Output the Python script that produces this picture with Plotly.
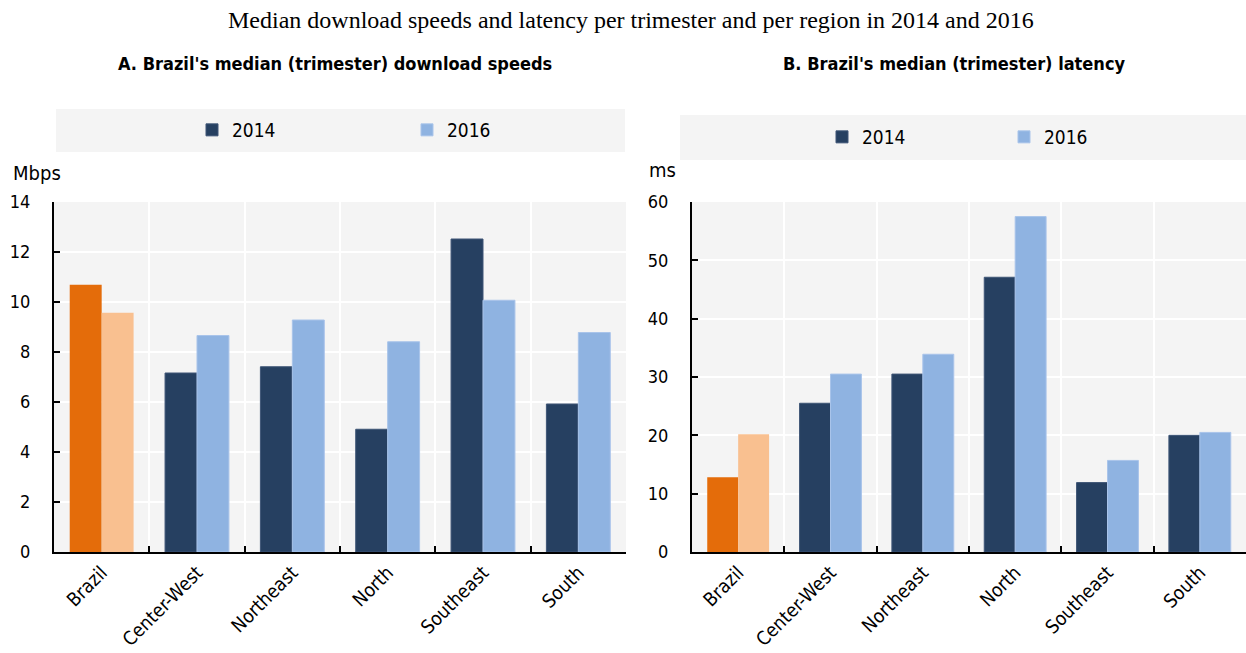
import plotly.graph_objects as go

categories = ["Brazil", "Center-West", "Northeast", "North", "Southeast", "South"]
speed_2014 = [10.69, 7.16, 7.41, 4.91, 12.52, 5.92]
speed_2016 = [9.57, 8.66, 9.28, 8.41, 10.07, 8.78]
latency_2014 = [12.8, 25.5, 30.5, 47.1, 11.9, 20.0]
latency_2016 = [20.2, 30.5, 33.9, 57.5, 15.7, 20.5]
years = ["2014", "2016"]

C_2014 = "#264061"
C_2016 = "#8fb3e1"
C_BR_2014 = "#e46c0a"
C_BR_2016 = "#f9c090"

W, H = 1246, 653
NARROW = "Liberation Sans Narrow, Arial Narrow, DejaVu Sans Condensed, sans-serif"

def px_x(v):
    return v / W

def px_y(v):
    return 1 - v / H

fig = go.Figure()

def add_panel(vals14, vals16, xa, ya, legend):
    # Brazil (highlighted)
    fig.add_bar(x=categories[:1], y=vals14[:1], xaxis=xa, yaxis=ya, offsetgroup="a",
                marker=dict(color=C_BR_2014, line=dict(width=0)), showlegend=False)
    fig.add_bar(x=categories[:1], y=vals16[:1], xaxis=xa, yaxis=ya, offsetgroup="b",
                marker=dict(color=C_BR_2016, line=dict(width=0)), showlegend=False)
    fig.add_bar(x=categories[1:], y=vals14[1:], xaxis=xa, yaxis=ya, offsetgroup="a",
                name=years[0], legend=legend,
                marker=dict(color=C_2014, line=dict(width=1, color="#3e5576")))
    fig.add_bar(x=categories[1:], y=vals16[1:], xaxis=xa, yaxis=ya, offsetgroup="b",
                name=years[1], legend=legend,
                marker=dict(color=C_2016, line=dict(width=1, color="#a9c4ea")))

add_panel(speed_2014, speed_2016, "x", "y", "legend")
add_panel(latency_2014, latency_2016, "x2", "y2", "legend2")

ydom = [px_y(552), px_y(202)]
common_x = dict(type="category", categoryorder="array", categoryarray=categories,
                range=[-0.5, 5.5], showline=True, linecolor="black", linewidth=2,
                ticks="inside", tickson="boundaries", ticklen=6, tickwidth=1.5,
                tickcolor="black", showgrid=True, gridcolor="white", gridwidth=2,
                tickangle=-45, tickfont=dict(family=NARROW, size=19, color="black"),
                automargin=False, fixedrange=True)
common_y = dict(showline=True, linecolor="black", linewidth=2, ticks="inside",
                ticklen=6, tickwidth=1.5, tickcolor="black", showgrid=True,
                gridcolor="white", gridwidth=2, zeroline=False,
                tickfont=dict(family=NARROW, size=18, color="black"),
                ticklabelstandoff=18, automargin=False, fixedrange=True)

fig.update_layout(
    width=W, height=H,
    margin=dict(l=0, r=0, t=0, b=0),
    paper_bgcolor="white", plot_bgcolor="#f4f4f4",
    barmode="group", bargap=0.33, bargroupgap=0,
    xaxis=dict(common_x, domain=[px_x(54), px_x(626)], anchor="y"),
    yaxis=dict(common_y, domain=ydom, range=[0, 14], dtick=2, anchor="x"),
    xaxis2=dict(common_x, domain=[px_x(692), 1.0], anchor="y2"),
    yaxis2=dict(common_y, domain=ydom, range=[0, 60], dtick=10, anchor="x2"),
    legend=dict(orientation="h", x=px_x(192), y=px_y(130), xanchor="left", yanchor="middle",
                bgcolor="rgba(0,0,0,0)", font=dict(family=NARROW, size=19, color="black"),
                entrywidth=170, entrywidthmode="pixels", traceorder="normal"),
    legend2=dict(orientation="h", x=px_x(822), y=px_y(137), xanchor="left", yanchor="middle",
                 bgcolor="rgba(0,0,0,0)", font=dict(family=NARROW, size=19, color="black"),
                 entrywidth=137, entrywidthmode="pixels", traceorder="normal"),
    shapes=[
        dict(type="rect", xref="paper", yref="paper", layer="below", line=dict(width=0),
             fillcolor="#f4f4f4", x0=px_x(56), x1=px_x(625), y0=px_y(152), y1=px_y(109)),
        dict(type="rect", xref="paper", yref="paper", layer="below", line=dict(width=0),
             fillcolor="#f4f4f4", x0=px_x(680), x1=1.0, y0=px_y(160), y1=px_y(115)),
    ],
    annotations=[
        dict(text="Median download speeds and latency per trimester and per region in 2014 and 2016",
             xref="paper", yref="paper", x=px_x(631), y=px_y(20), showarrow=False,
             xanchor="center", yanchor="middle",
             font=dict(family="Liberation Serif, Times New Roman, serif", size=24, color="black")),
        dict(text="<b>A. Brazil's median (trimester) download speeds</b>",
             xref="paper", yref="paper", x=px_x(335), y=px_y(63), showarrow=False,
             xanchor="center", yanchor="middle",
             font=dict(family=NARROW, size=18, color="black")),
        dict(text="<b>B. Brazil's median (trimester) latency</b>",
             xref="paper", yref="paper", x=px_x(954), y=px_y(63), showarrow=False,
             xanchor="center", yanchor="middle",
             font=dict(family=NARROW, size=18, color="black")),
        dict(text="Mbps", xref="paper", yref="paper", x=px_x(11), y=px_y(173), showarrow=False,
             xanchor="left", yanchor="middle", font=dict(family=NARROW, size=20, color="black")),
        dict(text="ms", xref="paper", yref="paper", x=px_x(647), y=px_y(170), showarrow=False,
             xanchor="left", yanchor="middle", font=dict(family=NARROW, size=20, color="black")),
    ],
)

fig.write_html("out.html")
